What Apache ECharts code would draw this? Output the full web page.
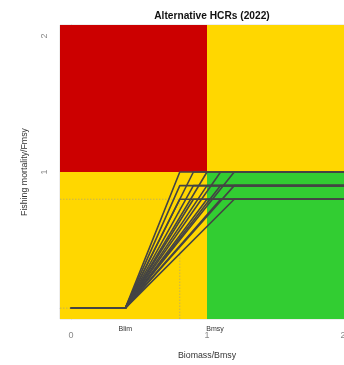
<!DOCTYPE html>
<html>
<head>
<meta charset="utf-8">
<script src="https://cdn.jsdelivr.net/npm/echarts@6/dist/echarts.min.js"></script>
<style>
  html, body { margin: 0; padding: 0; background: #fff; }
  #chart { width: 344px; height: 365px; }
</style>
</head>
<body>
<div id="chart"></div>
<script>
// Reference points (relative to MSY)
const blim = 0.4;
const bmsy = 1.0;
const fmsy = 1.0;
const flow = 0.0;
const refB = 0.8;
const refF = 0.8;

// Candidate harvest control rule settings
const btriggers = [0.8, 0.9, 1.0, 1.1, 1.2];
const ftargets = [0.8, 0.9, 1.0];

// Axis extents and ticks (the right side of the panel runs off the page)
const xMin = -0.08, xMax = 2.08;
const yMin = -0.08, yMax = 2.08;
const xTicks = [0, 1, 2];
const yTicks = [1, 2];
const refLabels = ['Blim', 'Bmsy'];
const refLabelValues = [blim, bmsy];

const RED = '#CC0000', GOLD = '#FFD700', GREEN = '#32CD32';
const LINE = '#444444';
const DOT = 'rgba(150,150,150,0.55)';
const FONT = 'Liberation Sans, Arial, sans-serif';

const series = [];

// Stock status zones
series.push({
  type: 'line', data: [], silent: true,
  markArea: {
    silent: true,
    itemStyle: { opacity: 1 },
    data: [
      [{ coord: [xMin, fmsy], itemStyle: { color: RED } }, { coord: [bmsy, yMax] }],
      [{ coord: [bmsy, fmsy], itemStyle: { color: GOLD } }, { coord: [xMax, yMax] }],
      [{ coord: [xMin, yMin], itemStyle: { color: GOLD } }, { coord: [bmsy, fmsy] }],
      [{ coord: [bmsy, yMin], itemStyle: { color: GREEN } }, { coord: [xMax, fmsy] }]
    ]
  }
});

// Dotted guide lines
const dotted = (data) => ({
  type: 'line', data, symbol: 'none', silent: true, z: 3,
  lineStyle: { color: DOT, width: 1, type: [1.5, 1.5] }
});
series.push(dotted([[xMin, refF], [refB, refF]]));
series.push(dotted([[refB, yMin], [refB, refF]]));
series.push(dotted([[xMin, flow], [0, flow]]));

// One segmented rule per trigger / target combination
ftargets.forEach(ft => {
  btriggers.forEach(bt => {
    series.push({
      type: 'line', symbol: 'none', silent: true, z: 4,
      lineStyle: { color: LINE, width: 1.6 },
      data: [[0, flow], [blim, flow], [bt, ft], [xMax, ft]]
    });
  });
});

const chart = echarts.init(document.getElementById('chart'), null, { renderer: 'canvas' });
chart.setOption({
  animation: false,
  backgroundColor: '#ffffff',
  title: {
    text: 'Alternative HCRs (2022)',
    left: 207, top: 6, textAlign: 'center',
    textStyle: { fontFamily: FONT, fontSize: 10.2, fontWeight: 'bold', color: '#111' }
  },
  grid: {
    left: 60, top: 25, width: 294, height: 294,
    outerBoundsMode: 'none', containLabel: false,
    show: true, borderColor: '#dddddd', borderWidth: 1, backgroundColor: 'transparent'
  },
  xAxis: [{
    type: 'value', min: xMin, max: xMax,
    name: 'Biomass/Bmsy', nameLocation: 'middle', nameGap: 32,
    nameTextStyle: { fontFamily: FONT, fontSize: 8.8, color: '#333' },
    splitLine: { show: false },
    axisLine: { show: true, lineStyle: { color: '#d0d0d0' } },
    axisTick: { show: true, length: 5, customValues: xTicks, lineStyle: { color: '#c8c8c8' } },
    axisLabel: {
      customValues: xTicks, margin: 12,
      fontFamily: FONT, fontSize: 9, color: '#888'
    }
  }, {
    type: 'value', min: xMin, max: xMax, position: 'bottom',
    splitLine: { show: false }, axisLine: { show: false }, axisTick: { show: false },
    axisLabel: {
      customValues: refLabelValues, margin: 7,
      formatter: v => v === bmsy ? '{r|' + refLabels[1] + '}' : '{c|' + refLabels[0] + '}',
      rich: {
        c: { fontFamily: FONT, fontSize: 7, color: '#333' },
        r: { fontFamily: FONT, fontSize: 7, color: '#333', padding: [0, 0, 0, 16] }
      }
    }
  }],
  yAxis: {
    type: 'value', min: yMin, max: yMax,
    name: 'Fishing mortality/Fmsy', nameLocation: 'middle', nameGap: 31,
    nameTextStyle: { fontFamily: FONT, fontSize: 8.8, color: '#333' },
    splitLine: { show: false },
    axisLine: { show: true, lineStyle: { color: '#d0d0d0' } },
    axisTick: { show: true, length: 6, customValues: yTicks, lineStyle: { color: '#c8c8c8' } },
    axisLabel: {
      customValues: yTicks, rotate: 90, margin: 11,
      fontFamily: FONT, fontSize: 9, color: '#888'
    }
  },
  series: series
});
</script>
</body>
</html>
